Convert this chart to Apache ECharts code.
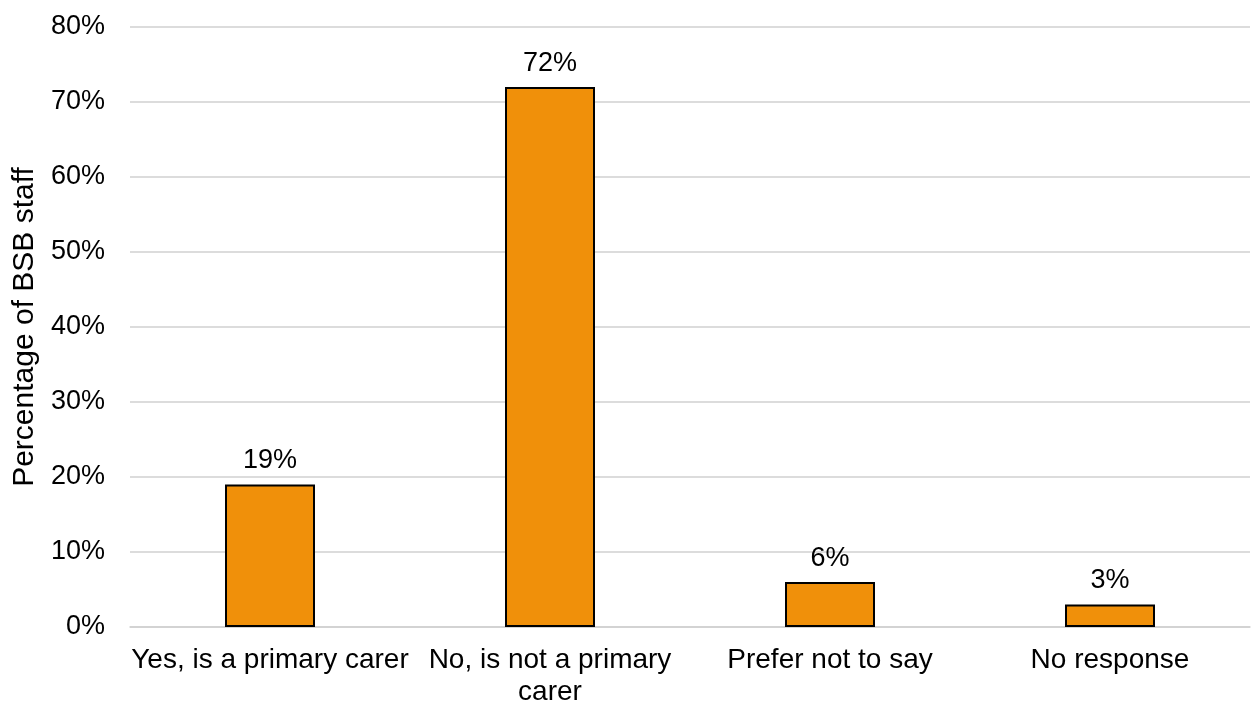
<!DOCTYPE html>
<html>
<head>
<meta charset="utf-8">
<script src="https://cdn.jsdelivr.net/npm/echarts@6/dist/echarts.min.js"></script>
<style>html,body{margin:0;padding:0;background:#fff}#c{width:1252px;height:702px}</style>
</head>
<body>
<div id="c"></div>
<script>
const categories = ['Yes, is a primary carer', 'No, is not a primary\ncarer', 'Prefer not to say', 'No response'];
const values = [19, 72, 6, 3];
const yTicks = [0, 10, 20, 30, 40, 50, 60, 70, 80];
const yTitle = 'Percentage of BSB staff';

const chart = echarts.init(document.getElementById('c'));
const font = 'Liberation Sans, Arial, sans-serif';
chart.setOption({
  animation: false,
  grid: { left: 130, right: 2, top: 27, bottom: 75, containLabel: false, outerBoundsMode: 'none' },
  xAxis: {
    type: 'category',
    data: categories,
    axisLine: { show: true, lineStyle: { color: '#d0d0d0', width: 1.5 } },
    axisTick: { show: false },
    axisLabel: { color: '#000', fontFamily: font, fontSize: 28, lineHeight: 32, margin: 17, interval: 0 }
  },
  yAxis: {
    type: 'value',
    min: yTicks[0],
    max: yTicks[yTicks.length - 1],
    interval: 10,
    name: yTitle,
    nameLocation: 'middle',
    nameGap: 90,
    nameTextStyle: { color: '#000', fontFamily: font, fontSize: 30 },
    axisLabel: { color: '#000', fontFamily: font, fontSize: 27, margin: 25, formatter: v => v + '%' },
    splitLine: { lineStyle: { color: '#d0d0d0', width: 1.5 } },
    axisLine: { show: false },
    axisTick: { show: false }
  },
  series: [{
    type: 'bar',
    data: values,
    barWidth: 90,
    itemStyle: { color: '#F0900A', borderColor: '#000', borderWidth: 2 },
    label: { show: true, position: 'top', distance: 10, color: '#000', fontFamily: font, fontSize: 27, formatter: p => p.value + '%' }
  }]
});
</script>
</body>
</html>
